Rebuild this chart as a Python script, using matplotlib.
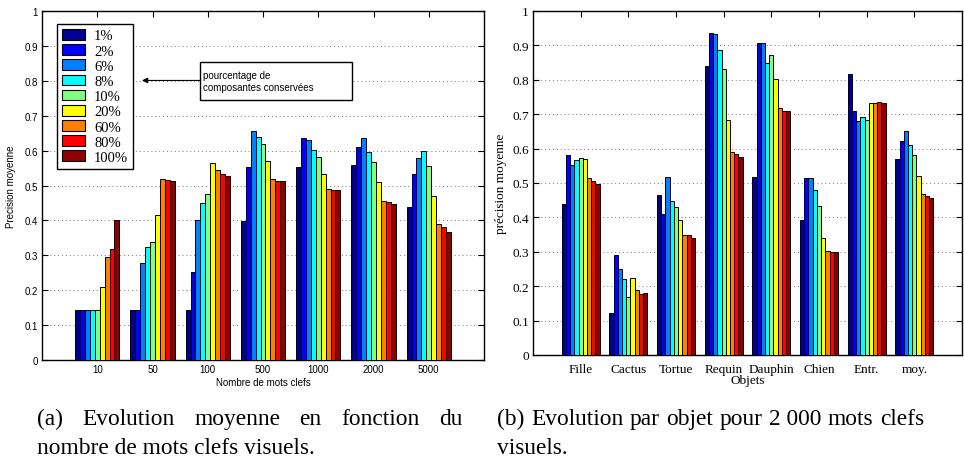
import numpy as np
import matplotlib.pyplot as plt
from matplotlib.patches import Patch, Rectangle

# Pourcentages de composantes conservees (une couleur jet par serie)
percents = ['1%', '2%', '6%', '8%', '10%', '20%', '60%', '80%', '100%']
colors = [(0, 0, 0.56), (0, 0, 1), (0, 0.5, 1), (0, 1, 1), (0.5, 1, 0.5),
          (1, 1, 0), (1, 0.5, 0), (1, 0, 0), (0.56, 0, 0)]

# (a) precision moyenne selon le nombre de mots clefs
nb_mots = ['10', '50', '100', '500', '1000', '2000', '5000']
prec_mots = [
    [0.142, 0.142, 0.142, 0.142, 0.142, 0.208, 0.294, 0.319, 0.401],
    [0.142, 0.142, 0.278, 0.325, 0.337, 0.416, 0.518, 0.515, 0.514],
    [0.142, 0.252, 0.401, 0.451, 0.477, 0.565, 0.545, 0.534, 0.528],
    [0.398, 0.554, 0.657, 0.640, 0.618, 0.569, 0.519, 0.514, 0.512],
    [0.553, 0.635, 0.631, 0.602, 0.581, 0.532, 0.491, 0.488, 0.488],
    [0.560, 0.610, 0.637, 0.597, 0.568, 0.509, 0.457, 0.453, 0.448],
    [0.437, 0.533, 0.580, 0.600, 0.557, 0.470, 0.391, 0.382, 0.367],
]

# (b) precision par objet pour 2000 mots clefs
objets = ['Fille', 'Cactus', 'Tortue', 'Requin', 'Dauphin', 'Chien', 'Entr.', 'moy.']
prec_objets = [
    [0.438, 0.582, 0.551, 0.567, 0.573, 0.571, 0.514, 0.505, 0.498],
    [0.123, 0.292, 0.249, 0.221, 0.169, 0.225, 0.190, 0.176, 0.181],
    [0.465, 0.410, 0.517, 0.447, 0.431, 0.392, 0.350, 0.350, 0.341],
    [0.841, 0.936, 0.933, 0.886, 0.830, 0.684, 0.591, 0.583, 0.575],
    [0.516, 0.906, 0.906, 0.848, 0.871, 0.802, 0.717, 0.710, 0.708],
    [0.392, 0.514, 0.514, 0.481, 0.434, 0.341, 0.302, 0.298, 0.298],
    [0.816, 0.708, 0.679, 0.692, 0.682, 0.733, 0.733, 0.735, 0.734],
    [0.571, 0.623, 0.650, 0.610, 0.581, 0.519, 0.467, 0.462, 0.456],
]

W, H = 964, 460
fig = plt.figure(figsize=(W / 100, H / 100), dpi=100)

SANS = 'Liberation Sans'
SERIF = 'Liberation Serif'


def grouped_bars(ax, values, ngroups):
    nser = len(percents)
    w = 0.8 / nser
    x = np.arange(1, ngroups + 1)
    vals = np.array(values)
    for j in range(nser):
        ax.bar(x + (j - (nser - 1) / 2) * w, vals[:, j], width=w,
               color=colors[j], edgecolor='black', linewidth=0.7, zorder=3)
    ax.set_xlim(0, ngroups + 1)
    ax.set_ylim(0, 1)
    ax.set_xticks(x)
    ax.set_yticks(np.arange(0, 1.01, 0.1))
    ax.set_yticklabels(['0', '0.1', '0.2', '0.3', '0.4', '0.5', '0.6', '0.7', '0.8', '0.9', '1'])
    ax.yaxis.grid(True, linestyle=(0, (1, 3)), color='#777777', linewidth=0.7, zorder=0)
    ax.tick_params(direction='in', top=True, right=True, length=4, width=0.8, pad=3)
    for s in ax.spines.values():
        s.set_linewidth(1.0)


# ---- (a) ----
ax1 = fig.add_axes([42 / W, 1 - 361 / H, 442 / W, 349 / H])
grouped_bars(ax1, prec_mots, len(nb_mots))
ax1.set_xticklabels(nb_mots)
for lab in ax1.get_xticklabels() + ax1.get_yticklabels():
    lab.set_fontfamily(SANS)
    lab.set_fontsize(7)
ax1.set_xlabel('Nombre de mots clefs', fontfamily=SANS, fontsize=7, labelpad=2)
ax1.set_ylabel('Precision moyenne', fontfamily=SANS, fontsize=7, labelpad=6)

handles = [Patch(facecolor=c, edgecolor='black', linewidth=0.8) for c in colors]
leg = ax1.legend(handles, percents, loc='upper left', bbox_to_anchor=(0.034, 0.963),
                 borderaxespad=0, prop={'family': SERIF, 'size': 10.5},
                 handlelength=1.6, handleheight=0.75, labelspacing=0.12,
                 handletextpad=0.6, borderpad=0.35, fancybox=False,
                 framealpha=1, edgecolor='black')
leg.get_frame().set_linewidth(1.0)
leg.set_zorder(5)

# boite d'annotation avec fleche
ax1.add_patch(Rectangle((2.86, 0.745), 2.75, 0.109, facecolor='white',
                        edgecolor='black', linewidth=1.0, zorder=5))
ax1.text(2.92, 0.800, 'pourcentage de\ncomposantes conservées', fontfamily=SANS,
         fontsize=7, va='center', ha='left', linespacing=1.25, zorder=6)
ax1.annotate('', xy=(1.81, 0.801), xytext=(2.86, 0.801),
             arrowprops=dict(arrowstyle='-|>', color='black', lw=0.8,
                             mutation_scale=8, shrinkA=0, shrinkB=0), zorder=6)

# ---- (b) ----
ax2 = fig.add_axes([533 / W, 1 - 356 / H, 429 / W, 344 / H])
grouped_bars(ax2, prec_objets, len(objets))
ax2.set_xticklabels(objets)
ax2.tick_params(axis='x', pad=6)
for lab in ax2.get_xticklabels() + ax2.get_yticklabels():
    lab.set_fontfamily(SERIF)
    lab.set_fontsize(9.5)
ax2.set_xlabel('Objets', fontfamily=SERIF, fontsize=9.5, labelpad=-1)
ax2.set_ylabel('précision moyenne', fontfamily=SERIF, fontsize=9.5, labelpad=4)

# ---- legendes (captions) ----
CAP = dict(fontfamily=SERIF, fontsize=16.8, va='baseline', ha='left')


def put(x, y, s):
    return fig.text(x / W, 1 - y / H, s, **CAP)


def justify(words, x0, x1, y):
    r = fig.canvas.get_renderer()
    texts = [put(0, y, w) for w in words]
    widths = [t.get_window_extent(r).width for t in texts]
    gap = (x1 - x0 - sum(widths)) / (len(words) - 1)
    x = x0
    for t, wd in zip(texts, widths):
        t.set_x(x / W)
        x += wd + gap


justify(['(a)', 'Evolution', 'moyenne', 'en', 'fonction', 'du'], 37, 462, 425)
put(37, 454, 'nombre de mots clefs visuels.')
justify(['(b)', 'Evolution', 'par', 'objet', 'pour', '2 000', 'mots', 'clefs'], 497, 924, 425)
put(497, 454, 'visuels.')

fig.savefig('out.png', dpi=100)
